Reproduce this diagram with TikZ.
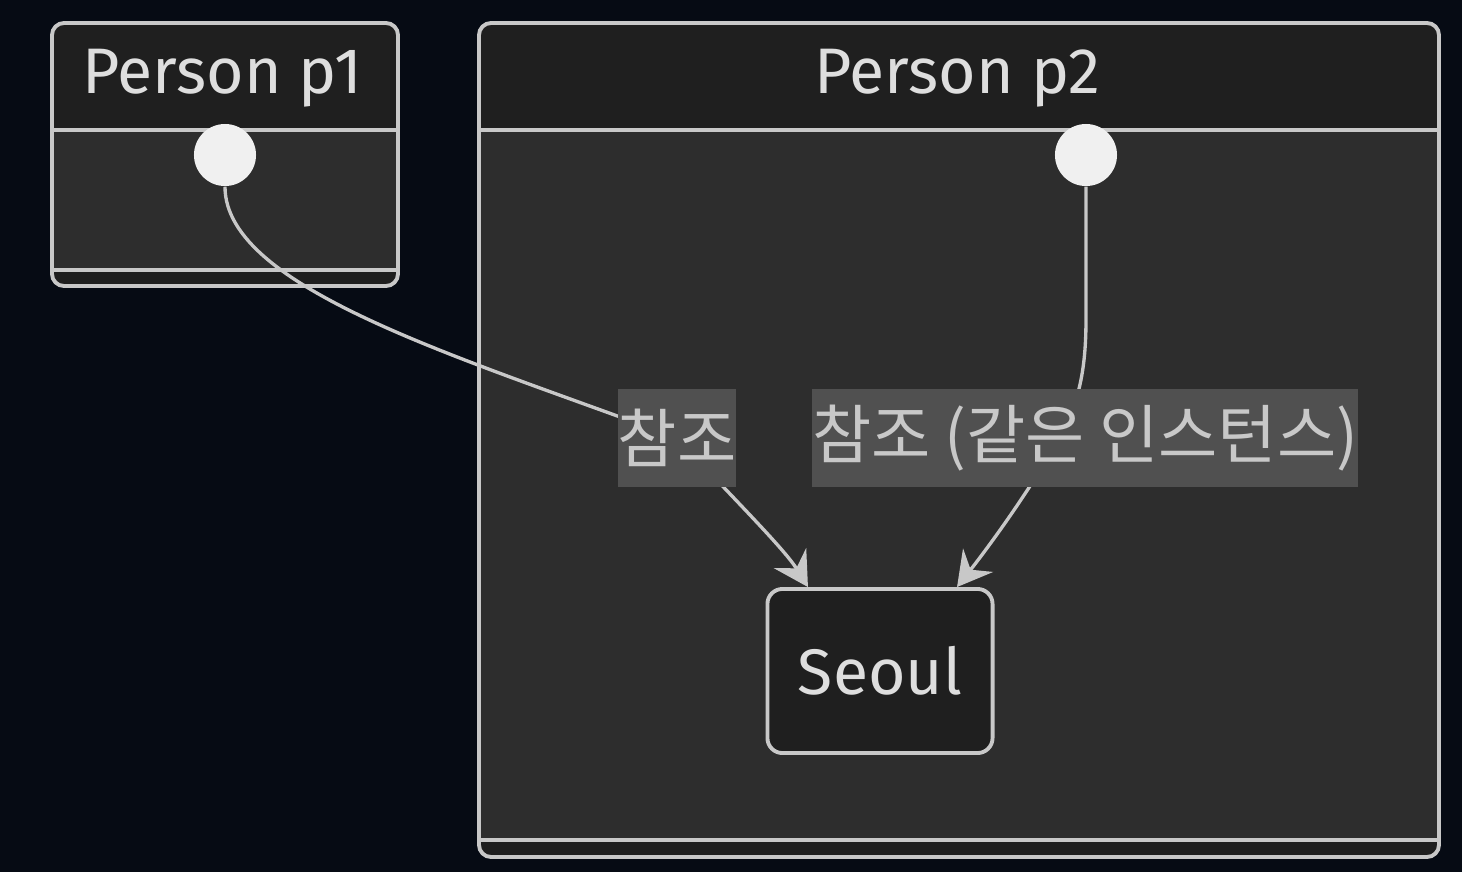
\documentclass[tikz,border=0pt]{standalone}
\usepackage{fontspec}
\setmainfont{Fira Sans}
\newfontfamily\kofont{Noto Sans CJK KR}
\usetikzlibrary{arrows.meta,positioning,calc}

\definecolor{bgnavy}{RGB}{6,11,20}
\definecolor{hdrgray}{RGB}{31,31,31}
\definecolor{bodygray}{RGB}{45,45,45}
\definecolor{framegray}{RGB}{200,200,200}
\definecolor{labelgray}{RGB}{80,80,80}
\definecolor{textgray}{RGB}{222,222,222}
\definecolor{dotwhite}{RGB}{240,240,240}

\begin{document}
\begin{tikzpicture}[x=0.01cm,y=-0.01cm,font=\fontsize{18.3pt}{22pt}\selectfont,
                    >={Stealth[length=0.34cm,width=0.38cm,inset=0.12cm,fill=framegray]},
                    frame/.style={draw=framegray,line width=1.1pt},
                    startdot/.style={circle,fill=dotwhite,minimum size=0.62cm,inner sep=0},
                    statebox/.style={frame,fill=hdrgray,rounded corners=0.15cm,text=textgray,
                                     minimum width=2.25cm,minimum height=1.64cm},
                    edgelabel/.style={fill=labelgray,text=framegray,inner sep=0,
                                      minimum height=0.98cm,font=\kofont\fontsize{18.3pt}{21pt}\selectfont},
                    link/.style={draw=framegray,line width=0.95pt,->},
                    title/.style={text=textgray}]
  \useasboundingbox[fill=bgnavy] (0,0) rectangle (1462,872);

  % Person p1 composite state
  \fill[hdrgray,rounded corners=0.12cm] (52,23) rectangle (398,286);
  \fill[bodygray] (52,130) rectangle (398,270);
  \draw[frame] (52,130) -- (398,130) (52,270) -- (398,270);
  \draw[frame,rounded corners=0.12cm] (52,23) rectangle (398,286);
  \node[title] (p1title) at (222,78) {Person p1};
  \node[startdot] (p1start) at (225,155) {};

  % Person p2 composite state
  \fill[hdrgray,rounded corners=0.12cm] (479,23) rectangle (1439,857);
  \fill[bodygray] (479,130) rectangle (1439,840);
  \draw[frame] (479,130) -- (1439,130) (479,840) -- (1439,840);
  \draw[frame,rounded corners=0.12cm] (479,23) rectangle (1439,857);
  \node[title] (p2title) at (957,78) {Person p2};
  \node[startdot] (p2start) at (1086,155) {};

  \node[statebox] (seoul) at (880,671) {Seoul};

  % edges
  \coordinate (via1) at (677,438);
  \coordinate (via2) at (1058,440);
  \draw[link,-] (p1start.south) .. controls (225,290) and (470,360) .. (via1);
  \draw[link] (via1) .. controls (740,505) and (785,550) .. ([xshift=-0.72cm]seoul.north);
  \draw[link,-] (p2start.south) -- (1086,320) .. controls (1086,380) and (1075,410) .. (via2);
  \draw[link] (via2) .. controls (1030,490) and (990,545) .. ([xshift=0.77cm]seoul.north);

  \node[edgelabel,minimum width=1.14cm] (lab1) at (677,438) {참조};
  \node[edgelabel,minimum width=5.41cm] (lab2) at (1085,438) {참조 (같은 인스턴스)};
\end{tikzpicture}
\end{document}
